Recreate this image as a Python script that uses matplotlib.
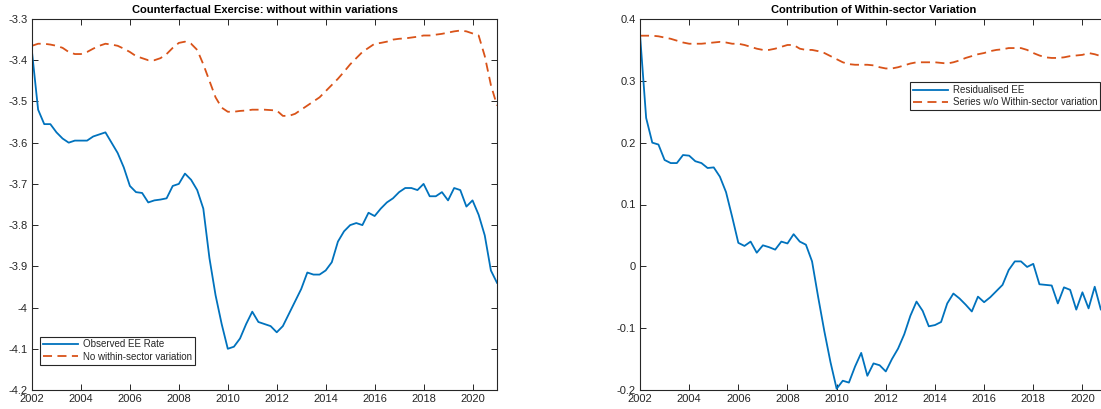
import numpy as np
import matplotlib.pyplot as plt
from matplotlib.ticker import FormatStrFormatter

plt.rcParams['font.family'] = ['Liberation Sans', 'DejaVu Sans']
plt.rcParams['axes.unicode_minus'] = False

# quarterly dates 2002Q1 .. 2021Q1
t = 2002 + 0.25 * np.arange(77)

# left panel
observed_ee = [
    -3.38, -3.52, -3.555, -3.555, -3.575, -3.59, -3.60, -3.595,
    -3.595, -3.595, -3.585, -3.58, -3.575, -3.60, -3.625, -3.66,
    -3.705, -3.72, -3.722, -3.745, -3.74, -3.738, -3.735, -3.705,
    -3.70, -3.675, -3.69, -3.715, -3.76, -3.88, -3.97, -4.04,
    -4.10, -4.095, -4.075, -4.04, -4.01, -4.035, -4.04, -4.045,
    -4.06, -4.045, -4.015, -3.985, -3.955, -3.915, -3.92, -3.92,
    -3.91, -3.89, -3.84, -3.815, -3.80, -3.795, -3.80, -3.77,
    -3.778, -3.76, -3.745, -3.735, -3.72, -3.71, -3.71, -3.715,
    -3.70, -3.73, -3.73, -3.72, -3.74, -3.71, -3.715, -3.755,
    -3.74, -3.775, -3.825, -3.91, -3.94,
]
no_within = [
    -3.365, -3.36, -3.36, -3.362, -3.365, -3.37, -3.38, -3.385,
    -3.385, -3.38, -3.372, -3.365, -3.36, -3.362, -3.365, -3.372,
    -3.38, -3.39, -3.395, -3.40, -3.40, -3.395, -3.385, -3.37,
    -3.358, -3.355, -3.36, -3.375, -3.41, -3.45, -3.49, -3.515,
    -3.525, -3.525, -3.523, -3.522, -3.52, -3.52, -3.52, -3.521,
    -3.522, -3.535, -3.535, -3.53, -3.52, -3.51, -3.50, -3.49,
    -3.475, -3.46, -3.445, -3.428, -3.41, -3.395, -3.38, -3.37,
    -3.36, -3.358, -3.355, -3.35, -3.348, -3.347, -3.345, -3.343,
    -3.34, -3.34, -3.338, -3.336, -3.333, -3.33, -3.328, -3.33,
    -3.335, -3.34, -3.39, -3.46, -3.51,
]

# right panel
residualised_ee = [
    0.375, 0.24, 0.20, 0.197, 0.172, 0.167, 0.167, 0.18,
    0.179, 0.17, 0.167, 0.159, 0.16, 0.145, 0.12, 0.08,
    0.038, 0.033, 0.04, 0.022, 0.034, 0.031, 0.027, 0.04,
    0.037, 0.052, 0.04, 0.035, 0.008, -0.05, -0.105, -0.155,
    -0.198, -0.185, -0.188, -0.162, -0.14, -0.177, -0.157, -0.16,
    -0.17, -0.15, -0.133, -0.11, -0.08, -0.057, -0.072, -0.097,
    -0.095, -0.09, -0.06, -0.044, -0.052, -0.062, -0.073, -0.049,
    -0.058, -0.05, -0.04, -0.03, -0.006, 0.008, 0.008, -0.001,
    0.004, -0.029, -0.03, -0.031, -0.06, -0.034, -0.038, -0.07,
    -0.042, -0.068, -0.033, -0.07, -0.075,
]
without_within = [
    0.373, 0.373, 0.373, 0.372, 0.37, 0.368, 0.365, 0.362,
    0.36, 0.36, 0.36, 0.361, 0.362, 0.363, 0.362, 0.36,
    0.36, 0.358, 0.355, 0.352, 0.35, 0.35, 0.352, 0.355,
    0.358, 0.358, 0.352, 0.35, 0.35, 0.348, 0.345, 0.34,
    0.335, 0.33, 0.327, 0.326, 0.326, 0.326, 0.325, 0.322,
    0.32, 0.32, 0.322, 0.325, 0.328, 0.33, 0.33, 0.33,
    0.33, 0.329, 0.328, 0.33, 0.333, 0.337, 0.34, 0.343,
    0.345, 0.348, 0.35, 0.351, 0.353, 0.353, 0.353, 0.35,
    0.345, 0.341, 0.338, 0.337, 0.337, 0.338, 0.34, 0.341,
    0.342, 0.345, 0.343, 0.34, 0.342,
]

blue = '#0072BD'
orange = '#D95319'
W, H = 1101, 409

fig = plt.figure(figsize=(W / 100, H / 100), dpi=100)
ax1 = fig.add_axes([32 / W, 19 / H, 465 / W, 371 / H])
ax2 = fig.add_axes([640 / W, 19 / H, 467 / W, 371 / H])

leg_kw = dict(fontsize=7, borderpad=0.3, labelspacing=0.25, handlelength=3.6,
              handletextpad=0.5, borderaxespad=0, fancybox=False,
              edgecolor='#262626', framealpha=1)

ax1.plot(t, observed_ee, color=blue, lw=1.3, label='Observed EE Rate')
ax1.plot(t, no_within, color=orange, lw=1.3, dashes=(5, 3),
         label='No within-sector variation')
ax1.set_ylim(-4.2, -3.3)
ax1.set_yticks(np.arange(-4.2, -3.25, 0.1))
ax1.set_title('Counterfactual Exercise: without within variations',
              fontsize=8, fontweight='bold', pad=4)
ax1.legend(loc='lower left', bbox_to_anchor=(0.017, 0.068), **leg_kw)

ax2.plot(t, residualised_ee, color=blue, lw=1.3, label='Residualised EE')
ax2.plot(t, without_within, color=orange, lw=1.3, dashes=(5, 3),
         label='Series w/o Within-sector variation')
ax2.set_ylim(-0.2, 0.4)
ax2.set_yticks(np.arange(-0.2, 0.41, 0.1))
ax2.set_title('Contribution of Within-sector Variation',
              fontsize=8, fontweight='bold', pad=4)
ax2.legend(loc='upper right', bbox_to_anchor=(0.985, 0.83), **leg_kw)

for ax in (ax1, ax2):
    ax.set_xlim(2002, 2021)
    ax.set_xticks(np.arange(2002, 2021, 2))
    ax.yaxis.set_major_formatter(FormatStrFormatter('%g'))
    ax.tick_params(direction='in', top=True, right=True, labelsize=8,
                   length=4, width=0.7, colors='#262626', pad=3)
    for s in ax.spines.values():
        s.set_linewidth(0.8)
        s.set_color('#262626')
    leg = ax.get_legend()
    leg.get_frame().set_linewidth(0.8)
    for txt in leg.get_texts():
        txt.set_color('#262626')

fig.savefig('out.png', dpi=100)
